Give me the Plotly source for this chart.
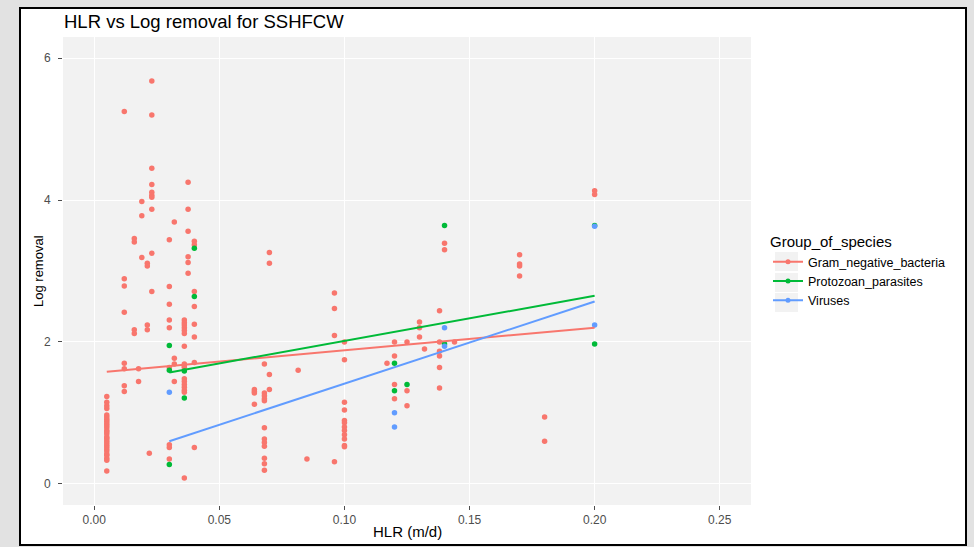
import plotly.graph_objects as go

# ---------------- data ----------------
groups = ["Gram_negative_bacteria", "Protozoan_parasites", "Viruses"]
colors = ["#F8766D", "#00BA38", "#619CFF"]

gnb_x = ([0.005] * 27 + [0.012] * 8 + [0.016] * 4 + [0.0177] * 2 + [0.019] * 3 +
         [0.0212] * 4 + [0.022] + [0.023] * 10 + [0.03] * 9 + [0.032] * 4 +
         [0.036] * 17 + [0.0375] * 6 + [0.040] * 8 + [0.064] * 4 + [0.068] * 12 +
         [0.07] * 4 + [0.0815] + [0.085] + [0.096] * 4 + [0.10] * 12 + [0.117] +
         [0.12] * 4 + [0.125] * 3 + [0.13] * 3 + [0.132] + [0.138] * 6 +
         [0.14] * 2 + [0.144] + [0.17] * 4 + [0.18] * 2 + [0.20] * 2)
gnb_y = ([0.18, 0.33, 0.36, 0.40, 0.42, 0.46, 0.49, 0.52, 0.55, 0.58, 0.61, 0.64, 0.66,
          0.70, 0.73, 0.75, 0.79, 0.82, 0.85, 0.88, 0.91, 0.94, 1.06, 1.10, 1.15, 1.23, 0.97] +
         [5.25, 2.89, 2.79, 2.42, 1.70, 1.62, 1.38, 1.30] +
         [3.46, 3.41, 2.17, 2.12] +
         [1.62, 1.44] +
         [3.98, 3.78, 3.19] +
         [3.11, 3.07, 2.24, 2.17] +
         [0.43] +
         [5.68, 5.20, 4.45, 4.22, 4.11, 4.07, 4.04, 3.87, 3.25, 2.71] +
         [3.44, 2.78, 2.53, 2.31, 2.20, 1.64, 0.55, 0.51, 0.35] +
         [3.69, 1.77, 1.69, 1.44] +
         [2.31, 2.27, 2.24, 2.20, 2.16, 2.12, 1.94, 1.69, 1.66, 1.64, 1.48, 1.44, 1.40,
          1.36, 1.32, 1.29, 0.08] +
         [4.25, 3.87, 3.56, 3.20, 3.12, 2.97] +
         [3.42, 3.37, 2.71, 2.50, 2.25, 2.07, 1.71, 0.51] +
         [1.33, 1.30, 1.28, 1.12] +
         [1.69, 1.28, 1.24, 1.20, 1.17, 0.79, 0.63, 0.58, 0.53, 0.36, 0.28, 0.19] +
         [3.26, 3.11, 1.54, 1.33] +
         [1.60] +
         [0.35] +
         [2.69, 2.47, 2.09, 0.31] +
         [2.00, 1.75, 1.15, 1.04, 0.89, 0.86, 0.80, 0.75, 0.69, 0.63, 0.54, 0.52] +
         [1.70] +
         [2.00, 1.80, 1.40, 1.20] +
         [2.00, 1.31, 1.10] +
         [2.28, 2.20, 2.07] +
         [1.90] +
         [2.44, 2.00, 1.87, 1.80, 1.64, 1.35] +
         [3.39, 3.30] +
         [2.00] +
         [3.23, 3.10, 3.07, 2.93] +
         [0.94, 0.60] +
         [4.13, 4.08])

pp_x = [0.03, 0.03, 0.03, 0.036, 0.036, 0.04, 0.04, 0.12, 0.12, 0.125, 0.14, 0.14, 0.20, 0.20]
pp_y = [1.95, 1.60, 0.27, 1.59, 1.21, 3.32, 2.64, 1.70, 1.31, 1.40, 3.64, 1.97, 3.64, 1.97]

vir_x = [0.03, 0.12, 0.12, 0.14, 0.14, 0.20, 0.20]
vir_y = [1.29, 1.00, 0.80, 2.20, 1.94, 3.63, 2.24]

# linear fit lines (endpoints)
fit_gnb_x = [0.005, 0.20]
fit_gnb_y = [1.58, 2.20]
fit_pp_x = [0.03, 0.20]
fit_pp_y = [1.57, 2.65]
fit_vir_x = [0.03, 0.20]
fit_vir_y = [0.60, 2.57]

x_ticks = [0.00, 0.05, 0.10, 0.15, 0.20, 0.25]
x_tick_labels = ["0.00", "0.05", "0.10", "0.15", "0.20", "0.25"]
y_ticks = [0, 2, 4, 6]
y_tick_labels = ["0", "2", "4", "6"]

# ---------------- figure ----------------
FONT = "Liberation Sans, Arial, sans-serif"
W, H = 974, 547
L, R, T, B = 63, 223, 37, 42
pw, ph = W - L - R, H - T - B


def px2paper_x(px):
    return (px - L) / pw


def px2paper_y(py):
    return (H - B - py) / ph


fig = go.Figure()

pts = [(gnb_x, gnb_y), (pp_x, pp_y), (vir_x, vir_y)]
for (xs, ys), c, g in zip(pts, colors, groups):
    fig.add_trace(go.Scatter(x=xs, y=ys, mode="markers", name=g, showlegend=False,
                             marker=dict(color=c, size=5.5, line=dict(width=0))))

fits = [(fit_gnb_x, fit_gnb_y), (fit_pp_x, fit_pp_y), (fit_vir_x, fit_vir_y)]
for (xs, ys), c, g in zip(fits, colors, groups):
    fig.add_trace(go.Scatter(x=xs, y=ys, mode="lines", name=g, showlegend=False,
                             line=dict(color=c, width=2)))

for c, g in zip(colors, groups):
    fig.add_trace(go.Scatter(x=[None], y=[None], mode="lines+markers", name=g,
                             line=dict(color=c, width=2),
                             marker=dict(color=c, size=5)))

shapes = [
    dict(type="rect", xref="paper", yref="paper",
         x0=px2paper_x(20), x1=px2paper_x(966), y0=px2paper_y(545), y1=px2paper_y(8),
         fillcolor="white", line=dict(color="black", width=2), layer="below"),
    dict(type="rect", xref="paper", yref="paper", x0=0, x1=1, y0=0, y1=1,
         fillcolor="#f2f2f2", line=dict(width=0), layer="below"),
]
# legend key backgrounds
for top in (252, 273, 293):
    shapes.append(dict(type="rect", xref="paper", yref="paper",
                       x0=px2paper_x(775), x1=px2paper_x(798),
                       y0=px2paper_y(top + 19), y1=px2paper_y(top),
                       fillcolor="#f2f2f2", line=dict(width=0), layer="below"))

annotations = [
    dict(text="HLR vs Log removal for SSHFCW", xref="paper", yref="paper",
         x=px2paper_x(62), y=px2paper_y(22), xanchor="left", yanchor="middle",
         showarrow=False, font=dict(family=FONT, size=18.5, color="black")),
    dict(text="HLR (m/d)", xref="paper", yref="paper",
         x=0.5, y=px2paper_y(531), xanchor="center", yanchor="middle",
         showarrow=False, font=dict(family=FONT, size=15, color="black")),
    dict(text="Log removal", xref="paper", yref="paper", textangle=-90,
         x=px2paper_x(38), y=0.5, xanchor="center", yanchor="middle",
         showarrow=False, font=dict(family=FONT, size=13, color="black")),
]

fig.update_layout(
    width=W, height=H,
    margin=dict(l=L, r=R, t=T, b=B, pad=0),
    paper_bgcolor="#e2e2e2",
    plot_bgcolor="rgba(0,0,0,0)",
    shapes=shapes,
    annotations=annotations,
    font=dict(family=FONT),
    legend=dict(
        title=dict(text="Group_of_species", font=dict(family=FONT, size=15, color="black")),
        font=dict(family=FONT, size=12.5, color="black"),
        x=px2paper_x(768), y=px2paper_y(227.5), xanchor="left", yanchor="top",
        bgcolor="rgba(0,0,0,0)", tracegroupgap=0,
    ),
    xaxis=dict(
        range=[-0.0125, 0.2625], tickvals=x_ticks, ticktext=x_tick_labels,
        showgrid=True, gridcolor="white", gridwidth=1.2, zeroline=False,
        ticks="outside", ticklen=4, tickcolor="#4d4d4d", tickwidth=1,
        tickfont=dict(family=FONT, size=12, color="#4d4d4d"),
        showline=False,
    ),
    yaxis=dict(
        range=[-0.3, 6.3], tickvals=y_ticks, ticktext=y_tick_labels,
        showgrid=True, gridcolor="white", gridwidth=1.2, zeroline=False,
        ticks="outside", ticklen=4, tickcolor="#4d4d4d", tickwidth=1,
        ticklabelstandoff=5,
        tickfont=dict(family=FONT, size=12, color="#4d4d4d"),
        showline=False,
    ),
)

fig.write_html("out.html")
